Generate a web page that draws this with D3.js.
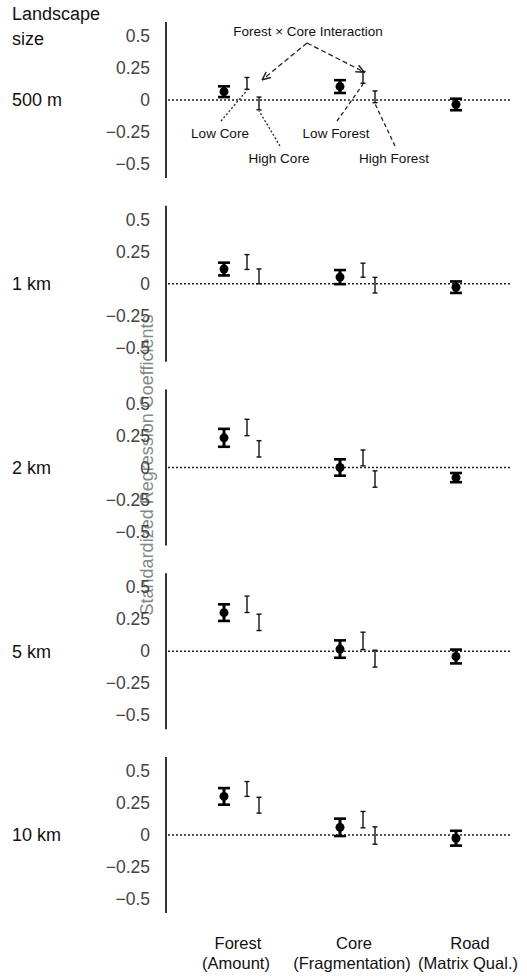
<!DOCTYPE html>
<html>
<head>
<meta charset="utf-8">
<script src="https://cdn.jsdelivr.net/npm/d3@7"></script>
<style>
  body { margin: 0; background: #fff; }
  text { font-family: Arial, "Liberation Sans", sans-serif; }
</style>
</head>
<body>
<div id="chart"></div>
<script>
// categories along x
const categories = ["Forest", "Core", "Road"]
const categorySub = ["(Amount)", "(Fragmentation)", "(Matrix Qual.)"]
const landscapes = ["500 m", "1 km", "2 km", "5 km", "10 km"]
const yTicks = [0.5, 0.25, 0, -0.25, -0.5]

// main effects (mean, half CI), one row per landscape size
const mainMean = [
  [0.065, 0.105, -0.035],
  [0.115, 0.052, -0.027],
  [0.232, 0.0, -0.079],
  [0.302, 0.017, -0.041],
  [0.302, 0.06, -0.025]
]
const mainErr = [
  [0.042, 0.05, 0.045],
  [0.05, 0.055, 0.045],
  [0.07, 0.064, 0.036],
  [0.065, 0.068, 0.054],
  [0.065, 0.068, 0.058]
]
// interaction: Low Core (under Forest), Low Forest (under Core)
const lowMean = [
  [0.13, 0.177],
  [0.17, 0.106],
  [0.313, 0.075],
  [0.367, 0.081],
  [0.36, 0.12]
]
const lowErr = [
  [0.046, 0.046],
  [0.058, 0.055],
  [0.064, 0.062],
  [0.064, 0.068],
  [0.058, 0.064]
]
// interaction: High Core (under Forest), High Forest (under Core)
const highMean = [
  [-0.027, 0.025],
  [0.058, -0.011],
  [0.146, -0.09],
  [0.226, -0.058],
  [0.233, -0.004]
]
const highErr = [
  [0.05, 0.046],
  [0.058, 0.061],
  [0.064, 0.064],
  [0.064, 0.066],
  [0.062, 0.068]
]

const width = 527
const height = 976
const axisX = 166
const panelTop = 22
const panelStep = 183.75
const panelH = 156

const svg = d3.select("#chart").append("svg")
  .attr("width", width)
  .attr("height", height)

svg.append("defs").append("marker")
  .attr("id", "arrow")
  .attr("viewBox", "0 0 10 10")
  .attr("refX", 5).attr("refY", 5)
  .attr("markerWidth", 7).attr("markerHeight", 7)
  .attr("orient", "auto-start-reverse")
  .append("path")
    .attr("d", "M0,1L9,5L0,9")
    .attr("fill", "none")
    .attr("stroke", "#222")
    .attr("stroke-width", 1.6)

const xScale = d3.scalePoint()
  .domain(categories)
  .range([224, 456])

const lowOff = 23
const highOff = 35

// y axis title (faint, sits behind the tick labels as in the original)
svg.append("text")
  .attr("transform", "translate(153,465) rotate(-90)")
  .attr("text-anchor", "middle")
  .attr("font-size", 18)
  .attr("fill", "#888")
  .text("Standardized Regression Coefficients")

svg.append("text").attr("x", 12).attr("y", 20).attr("font-size", 18).attr("fill", "#111").text("Landscape")
svg.append("text").attr("x", 12).attr("y", 45).attr("font-size", 18).attr("fill", "#111").text("size")

landscapes.forEach(function(name, i) {
  const top = panelTop + i * panelStep
  const yScale = d3.scaleLinear()
    .domain([-0.61, 0.61])
    .range([top + panelH, top])

  const g = svg.append("g")

  const axis = d3.axisLeft(yScale)
    .tickValues(yTicks)
    .tickSize(0)
    .tickPadding(16)
    .tickFormat(d => d === 0 ? "0" : String(d).replace("-", "\u2212"))

  const ax = g.append("g")
    .attr("transform", `translate(${axisX},0)`)
    .call(axis)
  ax.select(".domain").remove()
  ax.selectAll("text")
    .attr("font-size", 17.5)
    .attr("fill", "#444")
    .attr("font-family", "Arial, 'Liberation Sans', sans-serif")

  g.append("line")
    .attr("x1", axisX).attr("x2", axisX)
    .attr("y1", top).attr("y2", top + panelH)
    .attr("stroke", "#333").attr("stroke-width", 2)

  g.append("line")
    .attr("x1", axisX + 2).attr("x2", 510)
    .attr("y1", yScale(0)).attr("y2", yScale(0))
    .attr("stroke", "#222").attr("stroke-width", 1.3)
    .attr("stroke-dasharray", "2,2")

  g.append("text")
    .attr("x", 12).attr("y", yScale(0))
    .attr("dy", "0.35em")
    .attr("font-size", 18)
    .attr("fill", "#111")
    .text(name)

  // main effects
  const main = categories.map((c, j) => ({ x: xScale(c), m: mainMean[i][j], e: mainErr[i][j] }))
  const mg = g.selectAll(".main").data(main).enter().append("g").attr("class", "main")
  mg.append("line")
    .attr("x1", d => d.x).attr("x2", d => d.x)
    .attr("y1", d => yScale(d.m + d.e)).attr("y2", d => yScale(d.m - d.e))
    .attr("stroke", "#000").attr("stroke-width", 3)
  mg.append("line")
    .attr("x1", d => d.x - 6).attr("x2", d => d.x + 6)
    .attr("y1", d => yScale(d.m + d.e)).attr("y2", d => yScale(d.m + d.e))
    .attr("stroke", "#000").attr("stroke-width", 2.6)
  mg.append("line")
    .attr("x1", d => d.x - 6).attr("x2", d => d.x + 6)
    .attr("y1", d => yScale(d.m - d.e)).attr("y2", d => yScale(d.m - d.e))
    .attr("stroke", "#000").attr("stroke-width", 2.6)
  mg.append("circle")
    .attr("cx", d => d.x).attr("cy", d => yScale(d.m))
    .attr("r", 4.5).attr("fill", "#000")

  // interaction bars
  const inter = []
  for (let j = 0; j < 2; j++) {
    inter.push({ x: xScale(categories[j]) + lowOff, m: lowMean[i][j], e: lowErr[i][j] })
    inter.push({ x: xScale(categories[j]) + highOff, m: highMean[i][j], e: highErr[i][j] })
  }
  const ig = g.selectAll(".inter").data(inter).enter().append("g").attr("class", "inter")
  ig.append("line")
    .attr("x1", d => d.x).attr("x2", d => d.x)
    .attr("y1", d => yScale(d.m + d.e)).attr("y2", d => yScale(d.m - d.e))
    .attr("stroke", "#111").attr("stroke-width", 1.4)
  ig.append("line")
    .attr("x1", d => d.x - 2.5).attr("x2", d => d.x + 2.5)
    .attr("y1", d => yScale(d.m + d.e)).attr("y2", d => yScale(d.m + d.e))
    .attr("stroke", "#111").attr("stroke-width", 1.4)
  ig.append("line")
    .attr("x1", d => d.x - 2.5).attr("x2", d => d.x + 2.5)
    .attr("y1", d => yScale(d.m - d.e)).attr("y2", d => yScale(d.m - d.e))
    .attr("stroke", "#111").attr("stroke-width", 1.4)

  // annotations on the first panel
  if (i === 0) {
    const lc = inter[0], hc = inter[1], lf = inter[2], hf = inter[3]
    const ann = svg.append("g").attr("font-size", 13.5).attr("fill", "#111")

    ann.append("text").attr("x", 308).attr("y", 36).attr("text-anchor", "middle")
      .text("Forest \u00d7 Core Interaction")

    ann.append("path")
      .attr("d", `M307,43L${lc.x + 18},${yScale(lc.m + lc.e)}`)
      .attr("fill", "none").attr("stroke", "#222").attr("stroke-width", 1.3)
      .attr("stroke-dasharray", "5,3").attr("marker-end", "url(#arrow)")
    ann.append("path")
      .attr("d", `M307,43L${lf.x - 2},${yScale(lf.m + lf.e) - 1}`)
      .attr("fill", "none").attr("stroke", "#222").attr("stroke-width", 1.3)
      .attr("stroke-dasharray", "5,3").attr("marker-end", "url(#arrow)")

    const leaders = [
      { t: "Low Core", lx: 220, ly: 138, b: lc, dash: "2,2" },
      { t: "High Core", lx: 279, ly: 163, b: hc, dash: "2,2" },
      { t: "Low Forest", lx: 336, ly: 138, b: lf, dash: "4,3" },
      { t: "High Forest", lx: 394, ly: 163, b: hf, dash: "4,3" }
    ]
    leaders.forEach(function(l) {
      ann.append("text").attr("x", l.lx).attr("y", l.ly).attr("text-anchor", "middle").text(l.t)
      ann.append("line")
        .attr("x1", l.lx + 1).attr("y1", l.ly - 17)
        .attr("x2", l.b.x).attr("y2", yScale(l.b.m - l.b.e) + 1)
        .attr("stroke", "#222").attr("stroke-width", 1.3)
        .attr("stroke-dasharray", l.dash)
    })
  }
})

// category labels
const labels = svg.append("g").attr("font-size", 16.5).attr("fill", "#111").attr("text-anchor", "middle")
categories.forEach(function(c, j) {
  labels.append("text").attr("x", xScale(c) + 14).attr("y", 949).text(c)
  labels.append("text").attr("x", xScale(c) + 12).attr("y", 969).text(categorySub[j])
})
</script>
</body>
</html>
